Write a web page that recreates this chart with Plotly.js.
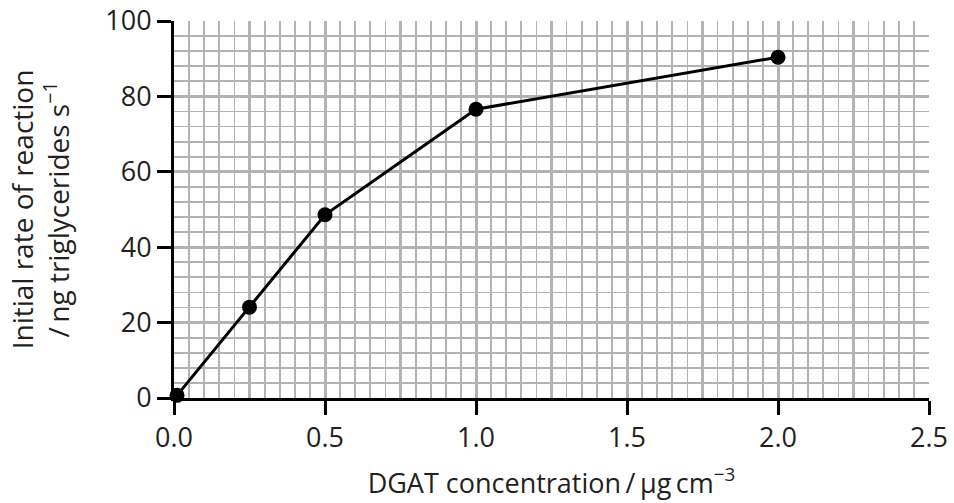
<!DOCTYPE html>
<html>
<head>
<meta charset="utf-8">
<script src="https://cdn.plot.ly/plotly-3.0.1.min.js"></script>
<style>html,body{margin:0;padding:0;background:#fff;}#chart{width:954px;height:503px;}</style>
</head>
<body>
<div id="chart"></div>
<script>
var dgatConcentration = [0.01, 0.25, 0.5, 1.0, 2.0];
var initialRate = [0.7, 24.1, 48.6, 76.6, 90.4];
var xTickVals = [0, 0.5, 1.0, 1.5, 2.0, 2.5];
var xTickText = ['0.0', '0.5', '1.0', '1.5', '2.0', '2.5'];
var yTickVals = [0, 20, 40, 60, 80, 100];

var txt = '#231f20';
var gridC = '#b3b3b3';
var fontFam = '"Open Sans", "Noto Sans", sans-serif';
var fs = 27;

var data = [
  {
    x: dgatConcentration, y: initialRate, xaxis: 'x', yaxis: 'y',
    mode: 'lines+markers', type: 'scatter',
    line: {color: '#000', width: 3},
    marker: {color: '#000', size: 15},
    hoverinfo: 'skip', showlegend: false, cliponaxis: false
  },
  {
    x: dgatConcentration, y: initialRate, xaxis: 'x2', yaxis: 'y',
    mode: 'none', type: 'scatter', hoverinfo: 'skip', showlegend: false
  }
];

var layout = {
  width: 954, height: 503,
  margin: {l: 174, r: 25, t: 21, b: 105},
  paper_bgcolor: '#fff', plot_bgcolor: '#fff',
  font: {family: fontFam, color: txt, size: fs},
  showlegend: false,
  xaxis: {
    range: [0, 2.5], dtick: 0.25, tick0: 0,
    showgrid: true, gridcolor: gridC, gridwidth: 3,
    minor: {dtick: 0.05, showgrid: true, gridcolor: gridC, gridwidth: 1.8},
    showticklabels: false, ticks: '', zeroline: false, showline: false,
    fixedrange: true
  },
  xaxis2: {
    overlaying: 'x', anchor: 'y', side: 'bottom',
    range: [0, 2.5], tickmode: 'array', tickvals: xTickVals, ticktext: xTickText,
    showgrid: false, zeroline: false,
    showline: true, linecolor: '#000', linewidth: 3,
    ticks: 'outside', ticklen: 14, tickwidth: 3, tickcolor: '#000',
    tickfont: {size: fs, color: txt, family: fontFam},
    title: {text: 'DGAT concentration\u2009/\u2009\u03bcg\u2009cm<sup>\u22123</sup>', font: {size: fs, color: txt, family: fontFam}, standoff: 20},
    fixedrange: true
  },
  yaxis: {
    range: [0, 100], tickmode: 'array', tickvals: yTickVals,
    showgrid: true, gridcolor: gridC, gridwidth: 3,
    minor: {dtick: 4, tick0: 0, showgrid: true, gridcolor: gridC, gridwidth: 1.8},
    zeroline: false,
    showline: true, linecolor: '#000', linewidth: 3,
    ticks: 'outside', ticklen: 14, tickwidth: 3, tickcolor: '#000',
    tickfont: {size: fs, color: txt, family: fontFam},
    title: {text: 'Initial rate of reaction<br>/\u2009ng triglycerides s<sup>\u22121</sup>', font: {size: 28, color: txt, family: fontFam}, standoff: 28},
    fixedrange: true
  }
};

Plotly.newPlot('chart', data, layout, {staticPlot: true, displayModeBar: false});
</script>
</body>
</html>
